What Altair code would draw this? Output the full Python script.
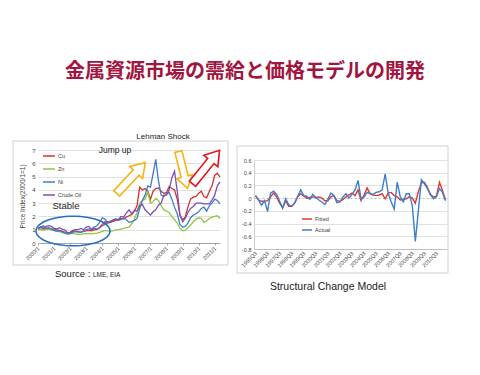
import math
import altair as alt
import pandas as pd

TITLE = "金属資源市場の需給と価格モデルの開発"

# ---------------- Left chart: price index (2000/1 = 1), read every two months
months = [f"{y}/{m:02d}/01" for y in range(2000, 2012) for m in (1, 3, 5, 7, 9, 11)][:69]
cu = [1.00, 1.05, 1.02, 1.10, 1.12, 1.05,
      1.05, 1.00, 0.95, 0.90, 0.82, 0.78,
      0.80, 0.88, 0.90, 0.85, 0.82, 0.88,
      0.92, 0.95, 0.92, 0.98, 1.02, 1.15,
      1.40, 1.60, 1.50, 1.55, 1.62, 1.70,
      1.75, 1.85, 1.80, 1.95, 2.05, 2.15,
      2.40, 2.80, 4.20, 4.00, 4.10, 3.90,
      3.30, 3.90, 4.10, 4.15, 3.90, 3.75,
      3.80, 4.25, 4.10, 4.00, 3.30, 2.10,
      1.75, 1.95, 2.70, 3.30, 3.45, 3.50,
      3.75, 3.90, 3.50, 3.40, 3.90, 4.30,
      5.10, 5.25, 4.95]
zn = [1.00, 1.02, 0.98, 1.00, 1.05, 0.98,
      0.95, 0.88, 0.85, 0.78, 0.75, 0.72,
      0.70, 0.72, 0.68, 0.66, 0.65, 0.68,
      0.70, 0.70, 0.68, 0.72, 0.74, 0.80,
      0.88, 0.95, 0.92, 0.90, 0.92, 0.98,
      1.00, 1.05, 1.10, 1.15, 1.20, 1.45,
      1.80, 2.30, 3.00, 3.20, 3.30, 3.85,
      3.00, 3.10, 3.35, 3.20, 2.80, 2.50,
      2.40, 2.30, 2.00, 1.75, 1.50, 1.10,
      0.92, 0.95, 1.15, 1.35, 1.60, 1.80,
      1.90, 1.85, 1.55, 1.65, 1.85, 1.95,
      2.00, 2.05, 1.85]
ni = [1.10, 1.20, 1.30, 1.10, 1.15, 1.05,
      0.95, 0.90, 0.92, 0.85, 0.75, 0.68,
      0.70, 0.80, 0.85, 0.82, 0.80, 0.90,
      1.00, 1.05, 1.05, 1.20, 1.30, 1.55,
      1.90, 1.80, 1.55, 1.65, 1.70, 1.80,
      1.70, 1.75, 1.90, 1.75, 1.55, 1.60,
      1.70, 1.85, 2.60, 3.20, 3.60, 4.30,
      4.20, 5.20, 6.30, 4.70, 3.60, 3.50,
      3.70, 3.80, 3.30, 2.70, 2.20, 1.40,
      1.20, 1.25, 1.50, 1.90, 2.10, 2.20,
      2.35, 2.60, 2.70, 2.40, 2.80, 3.00,
      3.30, 3.20, 2.95]
oil = [1.05, 1.20, 1.10, 1.25, 1.30, 1.25,
       1.10, 1.05, 1.15, 1.05, 1.00, 0.78,
       0.80, 0.95, 1.00, 1.00, 1.10, 1.00,
       1.20, 1.25, 1.00, 1.10, 1.05, 1.15,
       1.30, 1.40, 1.60, 1.55, 1.75, 1.80,
       1.75, 2.00, 1.95, 2.25, 2.50, 2.20,
       2.45, 2.40, 2.80, 2.90, 2.50, 2.30,
       2.10, 2.35, 2.50, 2.85, 3.00, 3.60,
       3.60, 4.00, 4.90, 5.40, 3.90, 2.10,
       1.60, 1.85, 2.30, 2.60, 2.75, 3.00,
       3.00, 3.00, 2.95, 2.95, 2.95, 3.25,
       3.60, 4.30, 4.60]
left_names = ["Cu", "Zn", "Ni", "Crude Oil"]
left_colors = ["#D7302C", "#8DC63F", "#3E7CCB", "#7A4FB8"]
left_yticks = [0, 1, 2, 3, 4, 5, 6, 7]
left_year_ticks = list(range(2000, 2012))

# ---------------- Right chart: structural change model, quarterly 1995Q3 .. 2011Q2
quarters = [f"{1995 + (i + 2) // 4}Q{(i + 2) % 4 + 1}" for i in range(64)]
quarter_ticks = [q for q in quarters if q.endswith("Q3")]
actual = [0.04, -0.03, -0.11, -0.04, -0.21, 0.08, 0.11, 0.06, -0.05, -0.16,
          -0.01, -0.10, -0.13, -0.08, 0.03, 0.13, 0.04, 0.03, -0.02, 0.06,
          0.01, -0.03, -0.06, -0.10, -0.02, 0.08, 0.04, -0.07, -0.06, 0.02,
          0.07, 0.00, 0.06, 0.13, 0.28, -0.01, 0.02, 0.09, 0.07, 0.06,
          0.09, 0.10, 0.13, 0.38, 0.08, -0.06, -0.17, 0.25, 0.02, -0.06,
          0.07, 0.07, -0.12, -0.68, -0.20, 0.29, 0.23, 0.15, 0.06, -0.01,
          0.02, 0.15, 0.09, -0.04]
fitted = [0.04, -0.03, -0.05, -0.05, -0.04, 0.02, 0.08, 0.02, -0.08, -0.15,
          -0.04, -0.13, -0.13, -0.07, 0.02, 0.07, 0.03, 0.00, 0.01, 0.02,
          0.01, 0.02, 0.00, -0.04, -0.04, 0.02, 0.04, -0.04, -0.05, -0.02,
          0.02, 0.05, 0.08, 0.04, 0.13, -0.04, 0.05, 0.16, 0.07, 0.05,
          0.04, 0.05, 0.07, -0.01, 0.08, 0.09, 0.04, 0.02, -0.03, -0.02,
          -0.01, 0.02, 0.00, -0.08, 0.10, 0.24, 0.25, 0.17, 0.05, 0.02,
          0.03, 0.25, 0.12, -0.03]
right_names = ["Fitted", "Actual"]
right_colors = ["#DC3A2C", "#3C7DD1"]
right_yticks = [-0.8, -0.6, -0.4, -0.2, 0, 0.2, 0.4, 0.6]

FONT = "Liberation Sans"
LBL = "#404040"
GRID = "#D9D9D9"

left_df = pd.DataFrame({
    "date": months * 4,
    "series": sum([[n] * len(months) for n in left_names], []),
    "value": cu + zn + ni + oil,
})
right_df = pd.DataFrame({
    "quarter": quarters * 2,
    "series": ["Fitted"] * 64 + ["Actual"] * 64,
    "value": fitted + actual,
})

one = pd.DataFrame({"k": [0]})


def dt(y, m=1):
    return alt.DateTime(year=y, month=m, date=1)


left_lines = alt.Chart(left_df).mark_line(strokeWidth=1.3).encode(
    x=alt.X("date:T",
            scale=alt.Scale(domain=[dt(2000), dt(2011, 5)], range=[38, 220], nice=False),
            axis=alt.Axis(orient="bottom", offset=-132, values=[dt(y) for y in left_year_ticks],
                          format="%Y/%-m", labelAngle=315, labelAlign="right", labelBaseline="middle",
                          labelFontSize=5.5, labelFont=FONT, labelColor=LBL, labelPadding=2,
                          labelOverlap=False, labelFlush=False, ticks=True, tickSize=2,
                          tickColor="#A6A6A6", domainColor="#A6A6A6", grid=False, title=None)),
    y=alt.Y("value:Q",
            scale=alt.Scale(domain=[0, 7], range=[243, 150], nice=False, zero=False),
            axis=alt.Axis(orient="left", offset=-38, values=left_yticks, grid=True, gridColor=GRID,
                          gridWidth=0.8, domain=False, ticks=False, labelFontSize=6, labelFont=FONT,
                          labelColor=LBL, labelPadding=3, title="Price Index(2000/1=1)",
                          titleFont=FONT, titleFontSize=6.5, titleFontWeight="normal", titleColor=LBL,
                          titleAngle=270, titleAlign="center", titleBaseline="middle",
                          titleX=-16, titleY=196)),
    color=alt.Color("series:N", scale=alt.Scale(domain=left_names, range=left_colors),
                    legend=alt.Legend(orient="none", legendX=42, legendY=149, title=None,
                                      symbolType="stroke", symbolSize=144, symbolStrokeWidth=1.5,
                                      labelFontSize=5.5, labelFont=FONT, labelColor=LBL,
                                      rowPadding=2, labelOffset=2, padding=0)),
)

right_lines = alt.Chart(right_df).mark_line(strokeWidth=1.4).encode(
    x=alt.X("quarter:O",
            scale=alt.Scale(type="point", domain=quarters, range=[254, 447], padding=0.5),
            axis=alt.Axis(orient="bottom", offset=-126, values=quarter_ticks, labelAngle=315,
                          labelAlign="right", labelBaseline="middle", labelFontSize=5.5,
                          labelFont=FONT, labelColor=LBL, labelPadding=3, labelOverlap=False,
                          ticks=False, domainColor="#BFBFBF", grid=False, title=None)),
    y=alt.Y("value:Q",
            scale=alt.Scale(domain=[-0.8, 0.6], range=[249, 160], nice=False, zero=False),
            axis=alt.Axis(orient="left", offset=-254, values=right_yticks, grid=True,
                          gridColor=alt.condition("datum.value === 0", alt.value("#A6A6A6"), alt.value(GRID)),
                          gridDash=alt.condition("datum.value === 0", alt.value([2, 2]), alt.value([])),
                          gridWidth=0.8, domain=True, domainColor="#D0D0D0", ticks=False,
                          labelExpr="replace(format(datum.value, '.1~f'), '\u2212', '-')",
                          labelFontSize=5.5, labelFont=FONT, labelColor=LBL, labelPadding=3,
                          title=None)),
    color=alt.Color("series:N", scale=alt.Scale(domain=right_names, range=right_colors),
                    legend=alt.Legend(orient="none", legendX=301, legendY=213, title=None,
                                      symbolType="stroke", symbolSize=100, symbolStrokeWidth=1.5,
                                      labelFontSize=5.5, labelFont=FONT, labelColor=LBL,
                                      rowPadding=1, labelOffset=2, padding=0)),
)


def frame(x1, x2, y1, y2):
    return alt.Chart(one).mark_rect(fill="white", fillOpacity=0, stroke="#D0D0D0", strokeWidth=1).encode(
        x=alt.value(x1), x2=alt.value(x2), y=alt.value(y1), y2=alt.value(y2))


def label(txt, x, y, size, align="left", color="#1A1A1A", font=FONT, weight="normal"):
    return alt.Chart(one).mark_text(text=txt, fontSize=size, align=align, baseline="middle",
                                    color=color, font=font, fontWeight=weight).encode(
        x=alt.value(x), y=alt.value(y))


# ellipse outline ("Stable") and block arrows as custom symbol paths
ell_pts = [(math.cos(2 * math.pi * i / 60), 0.4 * math.sin(2 * math.pi * i / 60)) for i in range(60)]
ELLIPSE = "M" + " L".join(f"{a:.3f},{b:.3f}" for a, b in ell_pts) + " Z"
ARROW = "M-0.19,1 L-0.19,-0.36 L-0.42,-0.36 L0,-1 L0.42,-0.36 L0.19,-0.36 L0.19,1 Z"


def symbol(shape, x, y, length, angle, color, fill=None):
    kw = dict(shape=shape, size=length * length, angle=angle, stroke=color, strokeWidth=1.6,
              opacity=1)
    if fill:
        kw.update(filled=True, fill=fill, fillOpacity=1)
    else:
        kw.update(filled=False)
    return alt.Chart(one).mark_point(**kw).encode(x=alt.value(x), y=alt.value(y))


chart = alt.layer(
    frame(13, 228, 141, 265),
    frame(237, 448, 146, 273),
    left_lines,
    right_lines,
    symbol(ELLIPSE, 73, 231, 74, 0, "#2A6EC0"),
    symbol(ARROW, 131, 178, 42, 43, "#F4B414", "white"),
    symbol(ARROW, 183, 170, 38, 166, "#F4B414", "white"),
    symbol(ARROW, 206, 167, 43, 39, "#E3121B", "white"),
    label(TITLE, 245, 72, 20, "center", "#A1153F", "Noto Sans CJK JP", "bold"),
    label("Lehman Shock", 163, 137, 8, "center"),
    label("Jump up", 115, 150, 8.5, "center"),
    label("Stable", 66, 206, 9.5, "center"),
    label("Source :", 55, 274, 9.5),
    label("LME, EIA", 93, 275, 6.5),
    label("Structural Change Model", 328, 287, 10.5, "center"),
).resolve_scale(
    x="independent", y="independent", color="independent"
).resolve_axis(
    x="independent", y="independent"
).resolve_legend(
    color="independent"
).properties(
    width=480, height=375, padding=0, autosize="none", background="white"
).configure_view(strokeWidth=0)

chart.save("out.html", embed_options={"renderer": "svg", "actions": False})
